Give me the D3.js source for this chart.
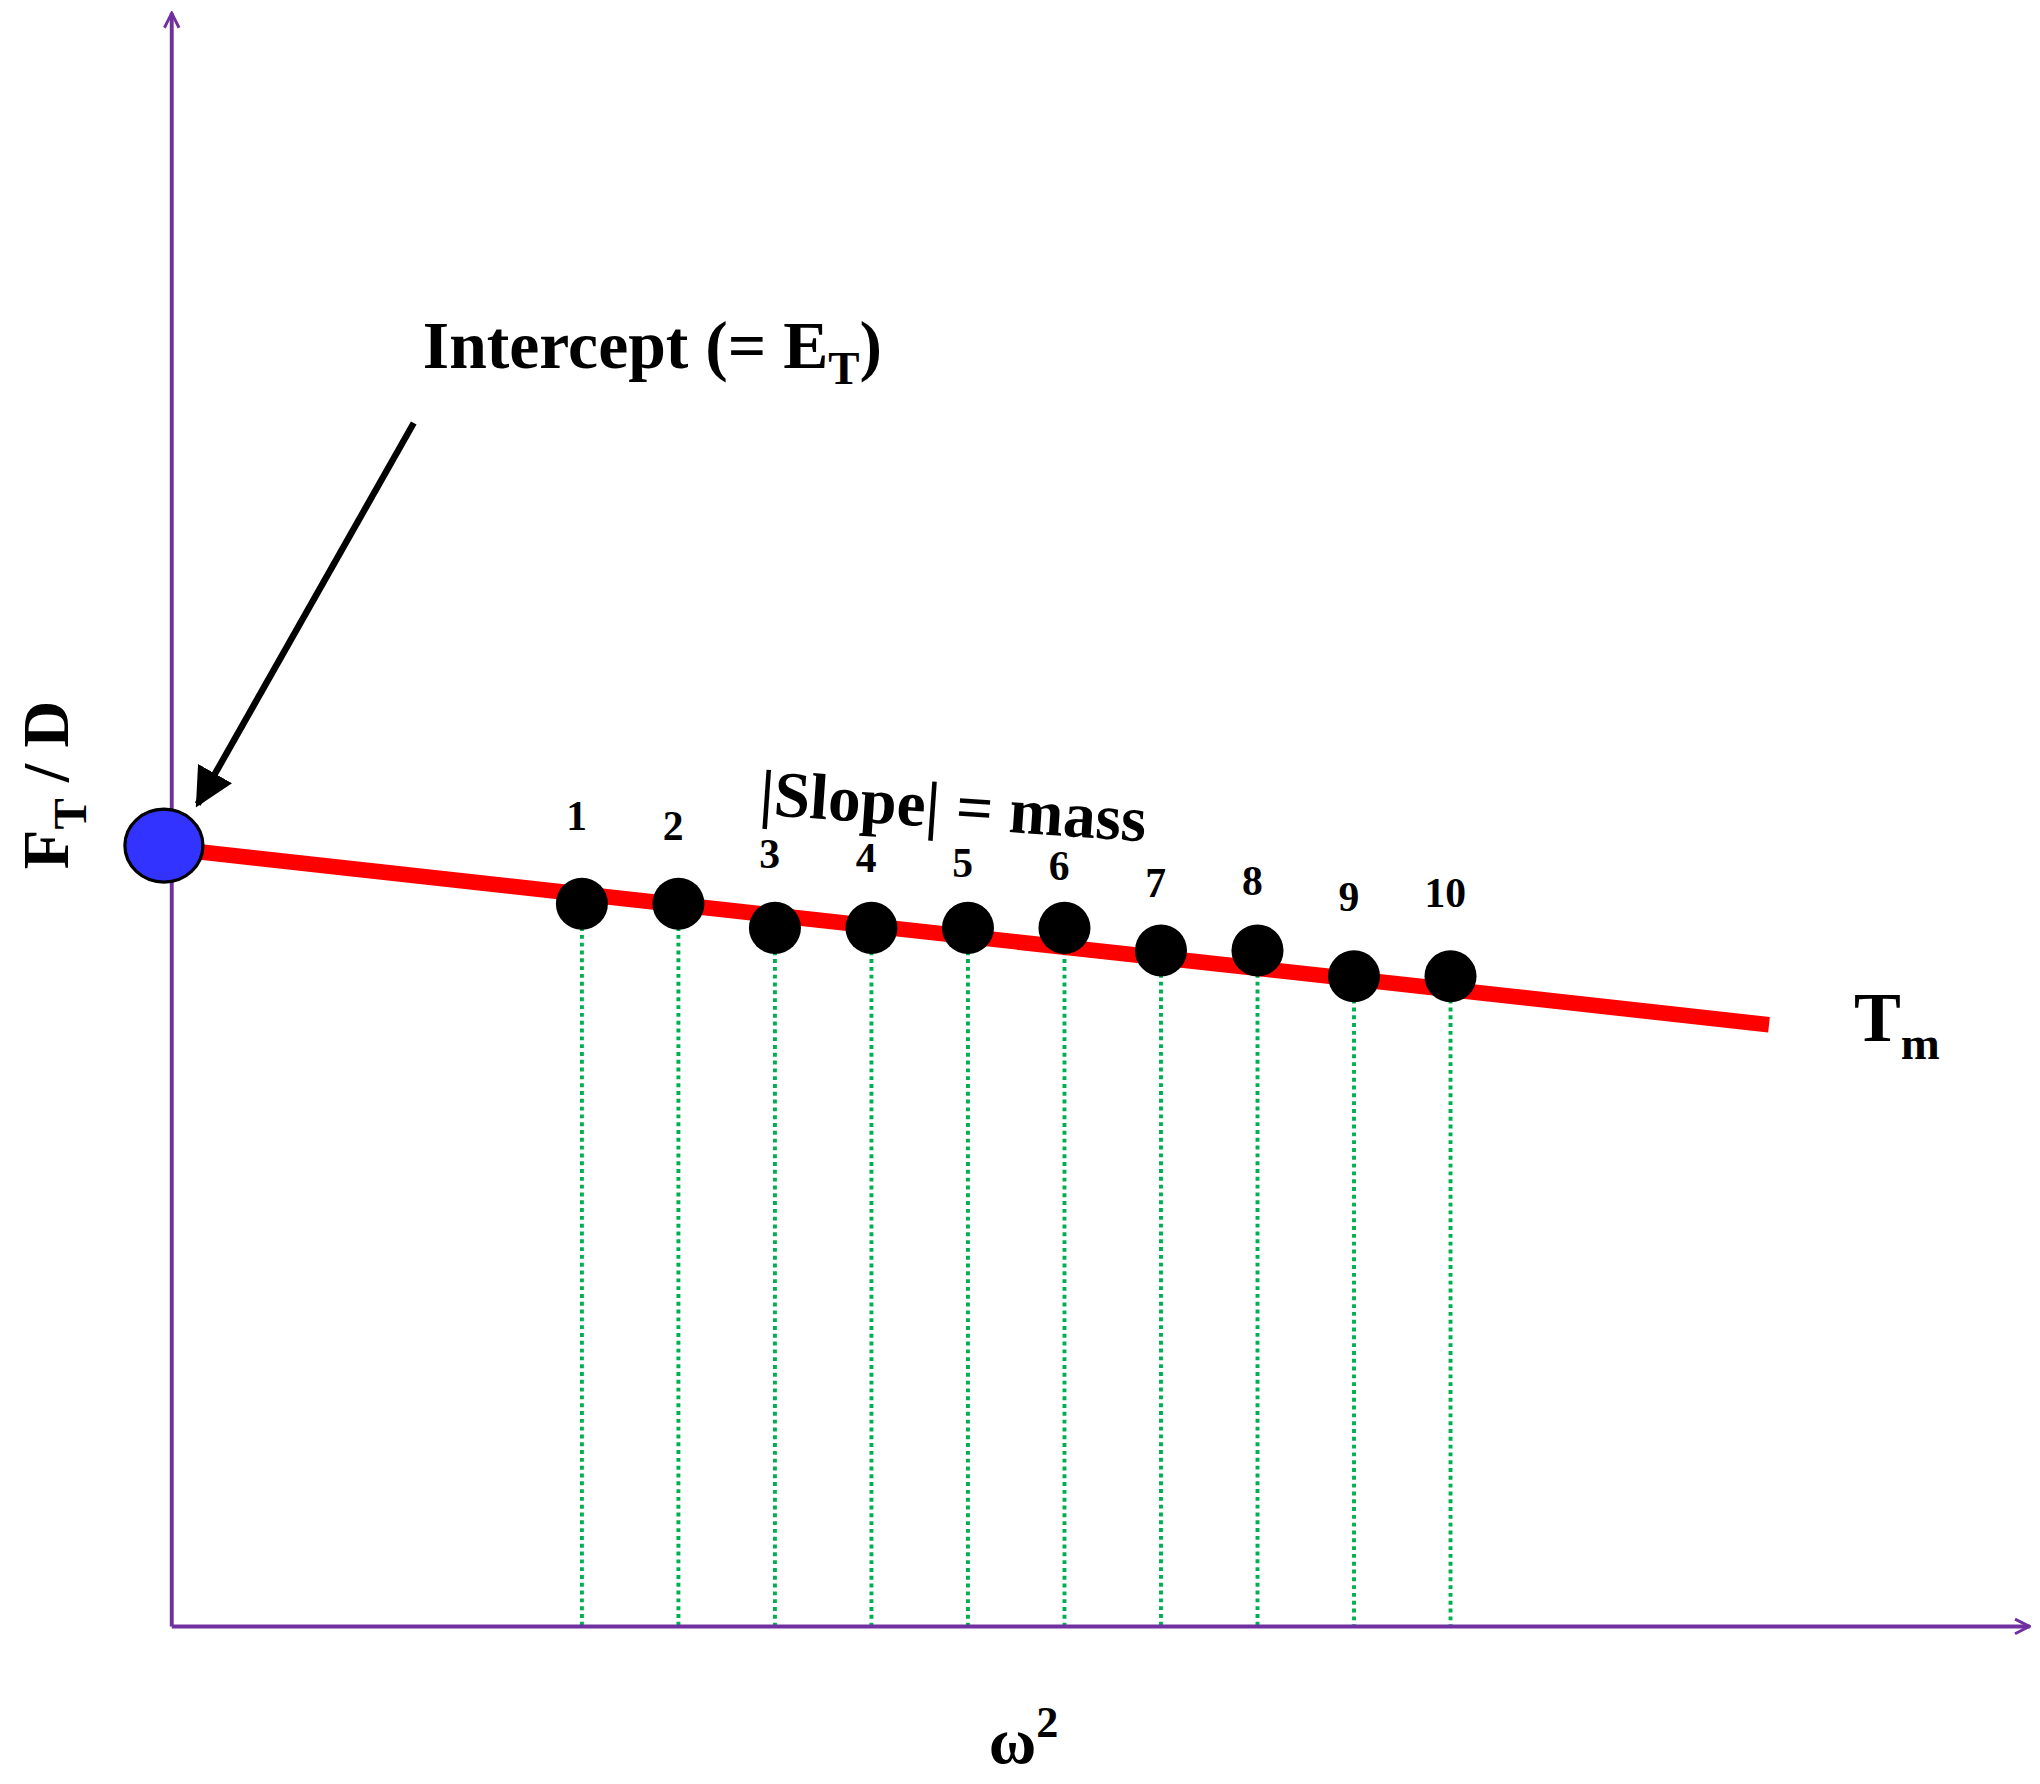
<!DOCTYPE html>
<html><head><meta charset="utf-8">
<script src="https://cdn.jsdelivr.net/npm/d3@7"></script>
<style>body{margin:0;background:#fff}</style></head>
<body><script>
// data
var pointLabels = ["1","2","3","4","5","6","7","8","9","10"];
var omega2 = [4.25,5.25,6.25,7.25,8.25,9.25,10.25,11.25,12.25,13.25];
var ftd = [44.8,44.8,43.3,43.3,43.3,43.3,41.9,41.9,40.3,40.3];
var labelOffset = [57,49,46,43,39,37,41,43,50,53];
var fitLine = [[0,48.2],[16.55,37.3]];
var intercept = [0,48.4];

var svg = d3.select("body").append("svg")
	.attr("width", 2040).attr("height", 1784)
	.attr("viewBox", "0 0 1568 1371")
	.style("font-family", "'Liberation Serif', serif")
	.style("font-weight", "bold");

var x = d3.scaleLinear().domain([0, 19.25]).range([132, 1560]);
var y = d3.scaleLinear().domain([0, 100]).range([1250, 10]);

var defs = svg.append("defs");
defs.append("marker").attr("id", "ah").attr("viewBox", "0 0 10 10")
	.attr("refX", 9).attr("refY", 5).attr("markerWidth", 14).attr("markerHeight", 14)
	.attr("markerUnits", "userSpaceOnUse").attr("orient", "auto")
	.append("path").attr("d", "M1,1 L9,5 L1,9").attr("fill", "none")
	.attr("stroke", "#7030a0").attr("stroke-width", 1.6);
defs.append("marker").attr("id", "bh").attr("viewBox", "0 0 10 10")
	.attr("refX", 9).attr("refY", 5).attr("markerWidth", 30).attr("markerHeight", 30)
	.attr("markerUnits", "userSpaceOnUse").attr("orient", "auto")
	.append("path").attr("d", "M0,0 L10,5 L0,10 Z").attr("fill", "#000");

// green drop lines
svg.selectAll(".drop").data(omega2).enter().append("line")
	.attr("x1", d => x(d)).attr("x2", d => x(d))
	.attr("y1", (d, i) => y(ftd[i])).attr("y2", y(0))
	.attr("stroke", "#00b050").attr("stroke-width", 3).attr("stroke-dasharray", "3,3");

// axes
svg.append("line").attr("x1", x(0)).attr("x2", x(0)).attr("y1", y(0)).attr("y2", 10)
	.attr("stroke", "#7030a0").attr("stroke-width", 3).attr("marker-end", "url(#ah)");
svg.append("line").attr("x1", x(0)).attr("x2", 1560).attr("y1", y(0)).attr("y2", y(0))
	.attr("stroke", "#7030a0").attr("stroke-width", 3).attr("marker-end", "url(#ah)");

// fit line
svg.append("line")
	.attr("x1", x(fitLine[0][0])).attr("y1", y(fitLine[0][1]))
	.attr("x2", x(fitLine[1][0])).attr("y2", y(fitLine[1][1]))
	.attr("stroke", "#ff0000").attr("stroke-width", 12);

// intercept point
svg.append("ellipse").attr("cx", x(intercept[0]) - 6).attr("cy", y(intercept[1]))
	.attr("rx", 30).attr("ry", 28).attr("fill", "#3333ff").attr("stroke", "#000").attr("stroke-width", 2.5);

// points
svg.selectAll(".pt").data(omega2).enter().append("circle")
	.attr("cx", d => x(d)).attr("cy", (d, i) => y(ftd[i])).attr("r", 20).attr("fill", "#000");
svg.selectAll(".lbl").data(pointLabels).enter().append("text")
	.attr("x", (d, i) => x(omega2[i]) - 4).attr("y", (d, i) => y(ftd[i]) - labelOffset[i])
	.attr("text-anchor", "middle").attr("font-size", 32).text(d => d);

// arrow
svg.append("line").attr("x1", 318).attr("y1", 325).attr("x2", 152).attr("y2", 618)
	.attr("stroke", "#000").attr("stroke-width", 5).attr("marker-end", "url(#bh)");

// texts
var t = svg.append("text").attr("x", 325).attr("y", 283).attr("font-size", 52);
t.append("tspan").text("Intercept (= E");
t.append("tspan").attr("font-size", 36).attr("dy", 12).text("T");
t.append("tspan").attr("dy", -12).text(")");

var f = svg.append("text").attr("transform", "translate(52,668) rotate(-90)").attr("font-size", 50);
f.append("tspan").text("F");
f.append("tspan").attr("font-size", 36).attr("dy", 14).text("T");
f.append("tspan").attr("dy", -14).text(" / D");

svg.append("text").attr("transform", "translate(583,626) rotate(4)").attr("font-size", 50)
	.text("|Slope| = mass");

var tm = svg.append("text").attr("x", 1425).attr("y", 800).attr("font-size", 54);
tm.append("tspan").text("T");
tm.append("tspan").attr("font-size", 36).attr("dy", 14).text("m");

var w = svg.append("text").attr("x", 760).attr("y", 1355).attr("font-size", 50);
w.append("tspan").text("ω");
w.append("tspan").attr("font-size", 34).attr("dy", -20).text("2");
</script></body></html>
